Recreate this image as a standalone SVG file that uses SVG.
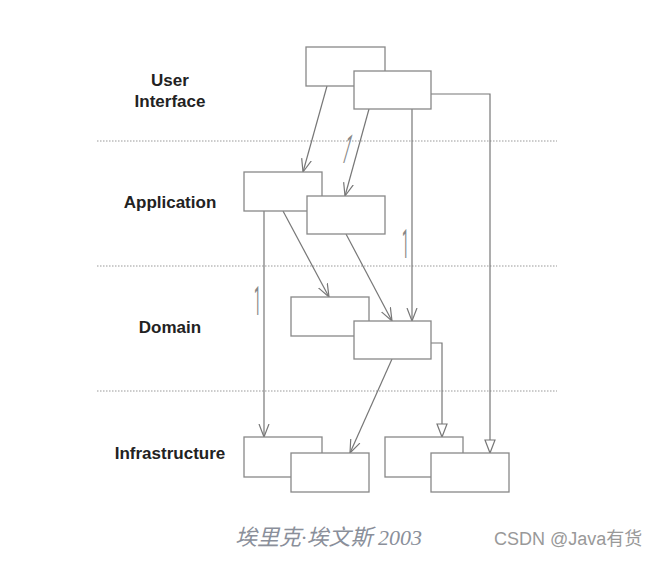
<svg xmlns="http://www.w3.org/2000/svg" width="660" height="561" viewBox="0 0 660 561">
<style>
.layer{font-family:"Liberation Sans",Arial,sans-serif;font-weight:bold;font-size:17px;fill:#222;text-anchor:middle}
.box{fill:#fff;stroke:#888;stroke-width:1.3}
.sep{stroke:#999;stroke-width:1.2;stroke-dasharray:1.5 1.5}
.con{fill:none;stroke:#777;stroke-width:1.2}
.one{font-family:Roboto,"Open Sans",sans-serif;font-size:40px;fill:#888}
.cap{font-family:"Liberation Serif","Noto Sans CJK SC",serif;font-style:italic;font-size:22px;fill:#8a8f9a}
.wm{font-family:"Liberation Sans","Noto Sans CJK SC",sans-serif;font-size:18px;fill:#999}
</style>
<defs>
<marker id="open" markerUnits="userSpaceOnUse" markerWidth="14" markerHeight="12" refX="13" refY="5" orient="auto" viewBox="0 0 14 10">
<path d="M0,0 L13,5 L0,10" fill="none" stroke="#777" stroke-width="1.2"/>
</marker>
<marker id="tri" markerUnits="userSpaceOnUse" markerWidth="16" markerHeight="12" refX="14" refY="5" orient="auto" viewBox="0 0 16 10">
<path d="M1,0 L14,5 L1,10 Z" fill="#fff" stroke="#777" stroke-width="1.2"/>
</marker>
</defs>
<rect width="660" height="561" fill="#fff"/>
<g id="separators">
<line class="sep" x1="97" y1="141" x2="557" y2="141"/>
<line class="sep" x1="97" y1="266" x2="557" y2="266"/>
<line class="sep" x1="97" y1="391" x2="557" y2="391"/>
</g>
<g id="labels">
<text class="layer" x="170" y="86">User</text>
<text class="layer" x="170" y="107">Interface</text>
<text class="layer" x="170" y="208">Application</text>
<text class="layer" x="170" y="333">Domain</text>
<text class="layer" x="170" y="459">Infrastructure</text>
</g>
<g id="connectors">
<line class="con" x1="327" y1="86" x2="303" y2="172" marker-end="url(#open)"/>
<line class="con" x1="369" y1="109" x2="345" y2="196" marker-end="url(#open)"/>
<line class="con" x1="412" y1="109" x2="412" y2="321" marker-end="url(#open)"/>
<polyline class="con" points="431,94 490,94 490,453" marker-end="url(#tri)"/>
<line class="con" x1="264" y1="211" x2="264" y2="437" marker-end="url(#open)"/>
<line class="con" x1="283" y1="211" x2="329" y2="297" marker-end="url(#open)"/>
<line class="con" x1="346" y1="234" x2="392" y2="321" marker-end="url(#open)"/>
<polyline class="con" points="431,343 442,343 442,437" marker-end="url(#tri)"/>
<line class="con" x1="392" y1="359" x2="350" y2="453" marker-end="url(#open)"/>
</g>
<g id="multiplicity">
<text class="one" transform="translate(340,163) skewX(-16) scale(0.3,1)">1</text>
<text class="one" transform="translate(402,258) scale(0.3,1)">1</text>
<text class="one" transform="translate(254,315) scale(0.3,1)">1</text>
</g>
<g id="ui-a"><rect class="box" x="306" y="47" width="79" height="39"/></g>
<g id="ui-b"><rect class="box" x="354" y="71" width="77" height="38"/></g>
<g id="app-a"><rect class="box" x="244" y="172" width="78" height="39"/></g>
<g id="app-b"><rect class="box" x="307" y="196" width="78" height="38"/></g>
<g id="dom-a"><rect class="box" x="291" y="297" width="78" height="39"/></g>
<g id="dom-b"><rect class="box" x="354" y="321" width="77" height="38"/></g>
<g id="inf-a"><rect class="box" x="244" y="437" width="78" height="40"/></g>
<g id="inf-b"><rect class="box" x="291" y="453" width="78" height="39"/></g>
<g id="inf-c"><rect class="box" x="385" y="437" width="78" height="40"/></g>
<g id="inf-d"><rect class="box" x="431" y="453" width="78" height="39"/></g>
<text class="cap" x="235" y="545">埃里克·埃文斯 2003</text>
<text class="wm" x="494" y="545">CSDN @Java有货</text>
</svg>
